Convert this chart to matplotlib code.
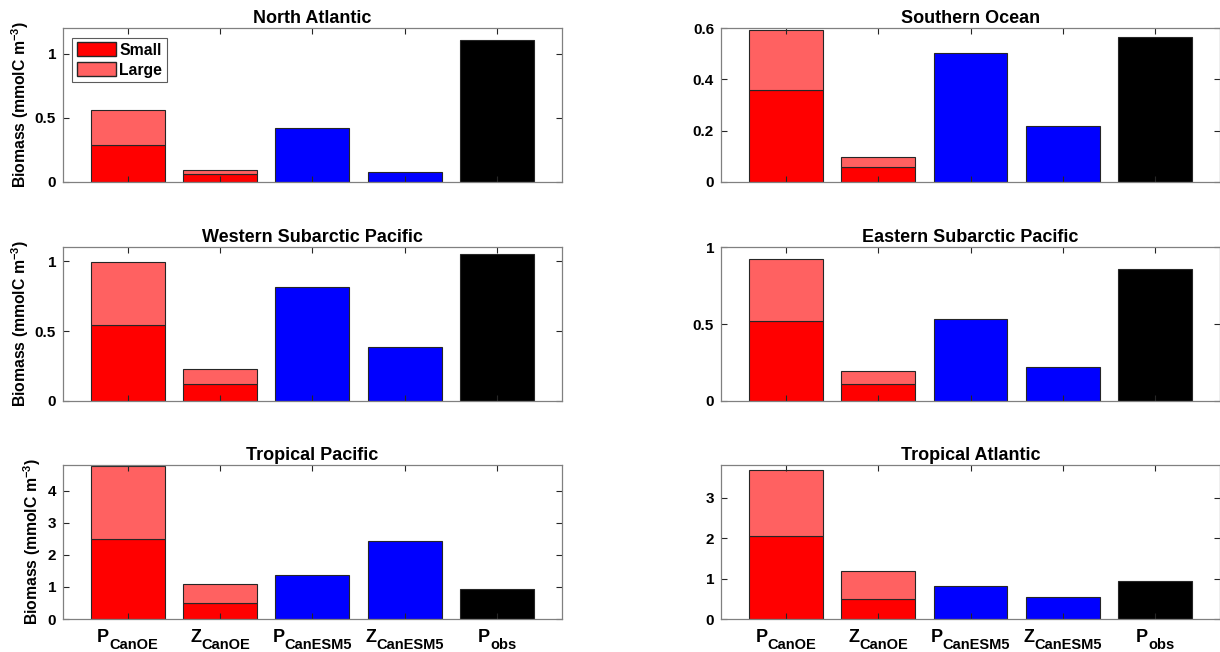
import matplotlib
matplotlib.use("Agg")
import matplotlib.pyplot as plt
import matplotlib.transforms as mtransforms
import numpy as np
from matplotlib.patches import Patch

plt.rcParams['font.family'] = ['Liberation Sans', 'DejaVu Sans']
plt.rcParams['font.weight'] = 'bold'
plt.rcParams['mathtext.fontset'] = 'custom'
plt.rcParams['mathtext.bf'] = 'Liberation Sans:bold'
plt.rcParams['mathtext.rm'] = 'Liberation Sans:bold'

# categories along x: (main letter, subscript)
cat_main = ['P', 'Z', 'P', 'Z', 'P']
cat_sub = ['CanOE', 'CanOE', 'CanESM5', 'CanESM5', 'obs']

regions = ["North Atlantic", "Southern Ocean", "Western Subarctic Pacific",
           "Eastern Subarctic Pacific", "Tropical Pacific", "Tropical Atlantic"]

# CanOE small / total (small + large) for P and Z
p_canoe_small = [0.29, 0.358, 0.54, 0.523, 2.50, 2.06]
p_canoe_total = [0.56, 0.592, 0.99, 0.92, 4.76, 3.69]
z_canoe_small = [0.066, 0.058, 0.122, 0.11, 0.51, 0.50]
z_canoe_total = [0.097, 0.098, 0.23, 0.195, 1.10, 1.19]
# single bars
p_canesm5 = [0.418, 0.503, 0.815, 0.532, 1.36, 0.82]
z_canesm5 = [0.074, 0.217, 0.388, 0.22, 2.44, 0.55]
p_obs = [1.11, 0.565, 1.05, 0.857, 0.93, 0.95]

ylims = [1.2, 0.6, 1.1, 1.0, 4.8, 3.8]
yticks = [[0, 0.5, 1], [0, 0.2, 0.4, 0.6], [0, 0.5, 1], [0, 0.5, 1],
          [0, 1, 2, 3, 4], [0, 1, 2, 3]]

red = (1, 0, 0)
light_red = (1, 0.38, 0.38)
edge = (0.15, 0.15, 0.15)

fig = plt.figure(figsize=(12.2, 6.52), dpi=100)
renderer = fig.canvas.get_renderer()

lefts = [0.0516, 0.591]
bottoms = [0.7209, 0.385, 0.0506]
w, h = 0.409, 0.236

x = np.arange(1, 6)
for i, reg in enumerate(regions):
    row, col = i // 2, i % 2
    ax = fig.add_axes([lefts[col], bottoms[row], w, h])

    small = [p_canoe_small[i], z_canoe_small[i]]
    total = [p_canoe_total[i], z_canoe_total[i]]
    large = [t - s for t, s in zip(total, small)]
    ax.bar(x[:2], small, width=0.8, color=red, edgecolor=edge, linewidth=0.8)
    ax.bar(x[:2], large, bottom=small, width=0.8, color=light_red, edgecolor=edge, linewidth=0.8)
    ax.bar(x[2:], [p_canesm5[i], z_canesm5[i], p_obs[i]], width=0.8,
           color=['blue', 'blue', 'black'], edgecolor=edge, linewidth=0.8)

    ax.set_xlim(0.3, 5.7)
    ax.set_ylim(0, ylims[i])
    ax.set_yticks(yticks[i])
    ax.set_yticklabels([f"{t:g}" for t in yticks[i]])
    ax.set_xticks(x)
    ax.set_xticklabels([])
    ax.tick_params(direction='in', top=True, right=True, length=4, width=0.8,
                   color=edge, labelsize=11, pad=5)
    for s in ax.spines.values():
        s.set_color((0.5, 0.5, 0.5))
        s.set_linewidth(0.9)
    ax.set_title(reg, fontsize=13, fontweight='bold', pad=4)
    if col == 0:
        ax.set_ylabel(r'Biomass (mmolC m$^{\mathbf{-3}}$)', fontsize=11.3, fontweight='bold', labelpad=3)

    # x tick labels: letter plus lowered subscript, centred on the tick
    if row == 2:
        base = ax.get_xaxis_transform()
        for xi, m, sb in zip(x, cat_main, cat_sub):
            t1 = ax.text(xi, 0, m, fontsize=13, fontweight='bold', va='baseline', ha='left')
            t2 = ax.text(xi, 0, sb, fontsize=10.5, fontweight='bold', va='baseline', ha='left')
            w1 = t1.get_window_extent(renderer).width
            w2 = t2.get_window_extent(renderer).width
            tot = w1 + w2
            t1.set_transform(mtransforms.offset_copy(base, fig=fig, x=-tot / 2, y=-23, units='dots'))
            t2.set_transform(mtransforms.offset_copy(base, fig=fig, x=-tot / 2 + w1, y=-30, units='dots'))

    if i == 0:
        handles = [Patch(facecolor=red, edgecolor=edge, label='Small'),
                   Patch(facecolor=light_red, edgecolor=edge, label='Large')]
        leg = ax.legend(handles=handles, loc='upper left', fontsize=11.3, fancybox=False,
                        edgecolor=(0.2, 0.2, 0.2), handlelength=2.45, handleheight=1.0,
                        borderpad=0.3, labelspacing=0.3, handletextpad=0.25,
                        borderaxespad=0.6)
        leg.get_frame().set_linewidth(0.8)

fig.savefig("out.png", dpi=100)
